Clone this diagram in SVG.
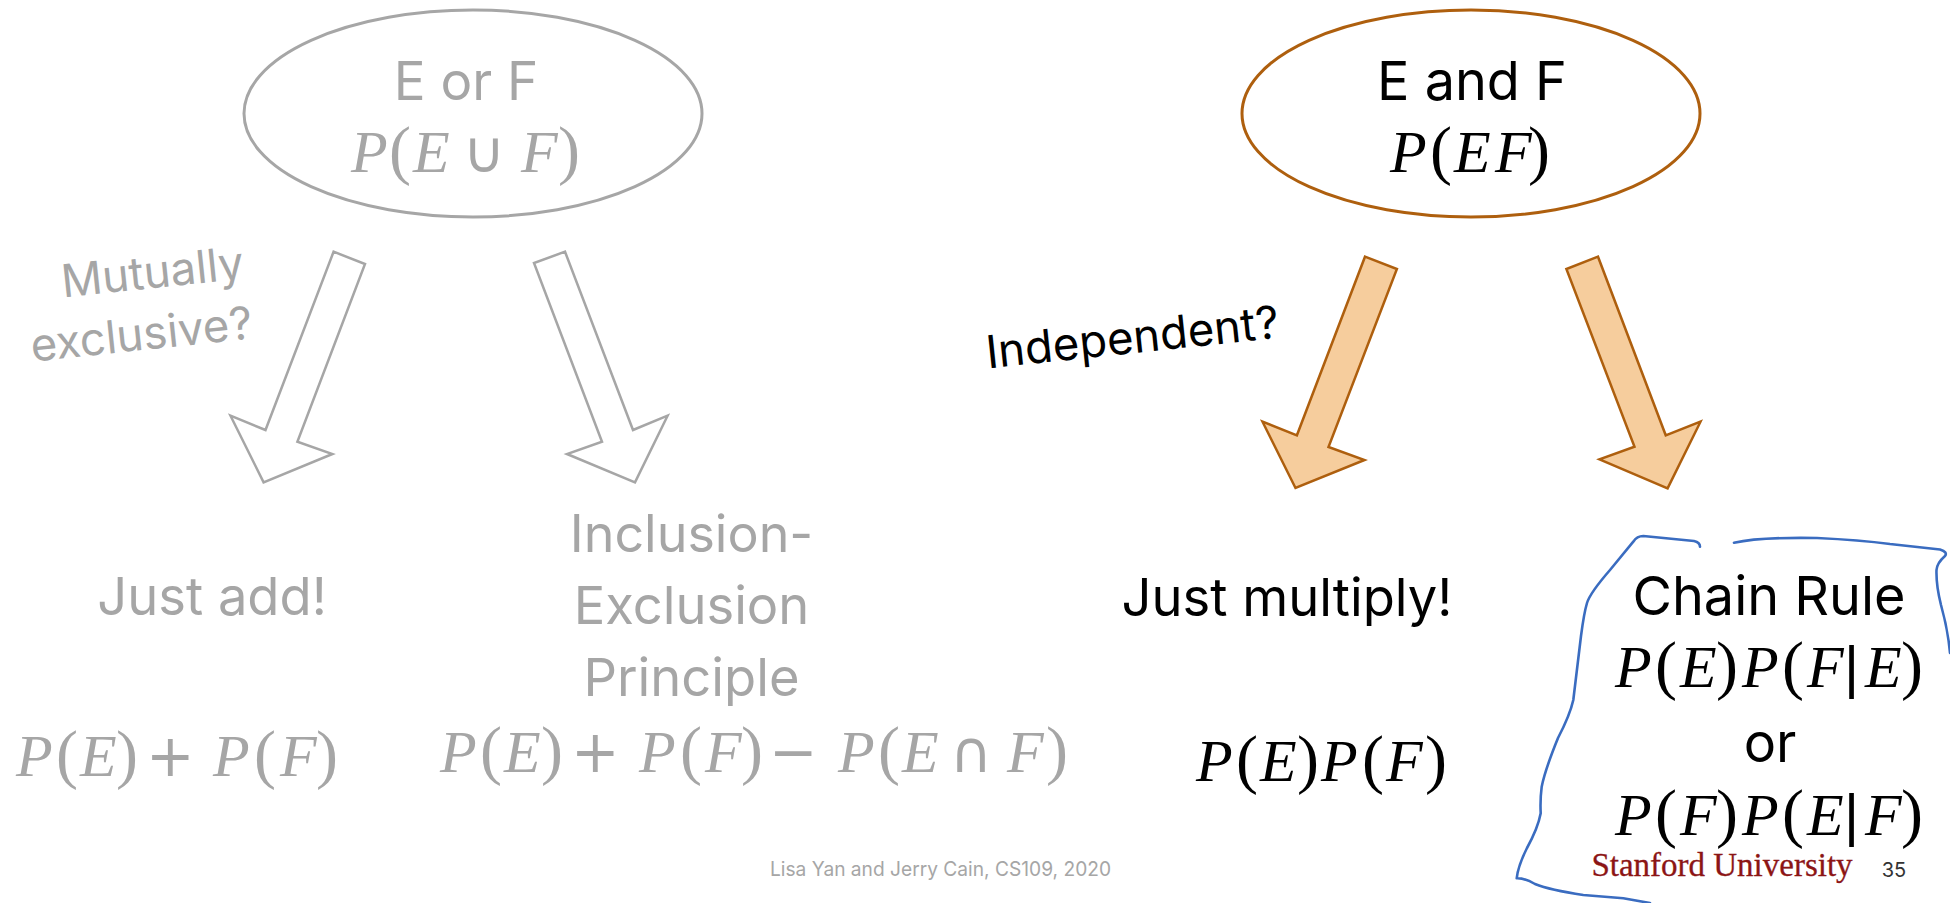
<svg xmlns="http://www.w3.org/2000/svg" width="1950" height="903" viewBox="0 0 1950 903">
<style>
text{font-family:"Inter","Liberation Sans",sans-serif;text-anchor:middle}
.g{fill:#a6a6a6}.k{fill:#000}
.t{font-size:52.5px}.c{font-size:54px}.s{font-size:45.5px}
.m{font-family:"Liberation Serif",serif;font-size:60px;font-style:italic;text-anchor:start}
.m .p{font-style:normal;font-size:66px}
.m .o{font-style:normal;font-family:"DejaVu Sans",sans-serif;font-size:58px}
.m .b{font-style:normal;font-family:"Liberation Sans",sans-serif;font-size:58px}
.el{fill:#fff;stroke-width:3}
.ag{fill:#fff;stroke:#a6a6a6;stroke-width:2.5}
.ao{fill:#f6cd9d;stroke:#ae5f0e;stroke-width:2.5}
</style>
<rect width="1950" height="903" fill="#fff"/>
<g id="connectors">
<polygon class="ag" points="333.6,251.7 365,264 297.4,441.7 332.4,454 263.6,482.3 230.5,415.7 265.5,430"/>
<polygon class="ag" points="565,251.7 534,263 602,441.7 567,454 635,482.3 667.6,415.7 633,430"/>
<polygon class="ao" points="1365,256.7 1396.9,269 1328.5,447 1364.5,460 1295.5,488 1262.5,421.7 1296.9,435.3"/>
<polygon class="ao" points="1598,256.7 1566.4,269 1634.5,446.7 1599.5,459.3 1667.6,488.3 1700.5,421.7 1665.75,435.3"/>
</g>
<g id="node-or">
<ellipse class="el" cx="473" cy="113.5" rx="229" ry="103.5" stroke="#a6a6a6"/>
<text class="c g" x="466" y="100" style="font-size:53px">E or F</text>
<text class="m g" y="172"><tspan x="351">P</tspan><tspan class="p" x="389">(</tspan><tspan x="413">E</tspan><tspan class="o" x="463">∪</tspan><tspan x="521">F</tspan><tspan class="p" x="558">)</tspan></text>
</g>
<g id="node-and">
<ellipse class="el" cx="1471" cy="113.5" rx="229" ry="103.5" stroke="#ae5f0e"/>
<text class="c k" x="1472" y="100">E and F</text>
<text class="m k" y="172"><tspan x="1390">P</tspan><tspan class="p" x="1430">(</tspan><tspan x="1454">E</tspan><tspan x="1495">F</tspan><tspan class="p" x="1528">)</tspan></text>
</g>
<g id="label-mutually">
<text class="s g" transform="translate(154,288) rotate(-6)">Mutually</text>
<text class="s g" transform="translate(143,350) rotate(-6)">exclusive?</text>
</g>
<g id="label-independent">
<text class="s k" transform="translate(1134,353) rotate(-6)">Independent?</text>
</g>
<g id="node-add">
<text class="t g" x="212" y="615">Just add!</text>
<text class="m g" y="776"><tspan x="16">P</tspan><tspan class="p" x="56">(</tspan><tspan x="80">E</tspan><tspan class="p" x="116">)</tspan><tspan class="o" x="146">+</tspan><tspan x="213">P</tspan><tspan class="p" x="254">(</tspan><tspan x="280">F</tspan><tspan class="p" x="316">)</tspan></text>
</g>
<g id="node-ie">
<text class="t g" x="691.5" y="552" style="font-size:52px">Inclusion-</text>
<text class="t g" x="691.5" y="624">Exclusion</text>
<text class="t g" x="691.5" y="696">Principle</text>
<text class="m g" y="772"><tspan x="440">P</tspan><tspan class="p" x="480">(</tspan><tspan x="504">E</tspan><tspan class="p" x="541">)</tspan><tspan class="o" x="571">+</tspan><tspan x="639">P</tspan><tspan class="p" x="680">(</tspan><tspan x="705">F</tspan><tspan class="p" x="741">)</tspan><tspan class="o" x="769">−</tspan><tspan x="838">P</tspan><tspan class="p" x="878">(</tspan><tspan x="902">E</tspan><tspan class="o" x="950">∩</tspan><tspan x="1007">F</tspan><tspan class="p" x="1046">)</tspan></text>
</g>
<g id="node-multiply">
<text class="t k" x="1287" y="616">Just multiply!</text>
<text class="m k" y="781"><tspan x="1196">P</tspan><tspan class="p" x="1236">(</tspan><tspan x="1260">E</tspan><tspan class="p" x="1297">)</tspan><tspan x="1321">P</tspan><tspan class="p" x="1362">(</tspan><tspan x="1386">F</tspan><tspan class="p" x="1425">)</tspan></text>
</g>
<g id="node-chain">
<text class="c k" x="1769" y="615">Chain Rule</text>
<text class="m k" y="687"><tspan x="1615">P</tspan><tspan class="p" x="1655">(</tspan><tspan x="1680">E</tspan><tspan class="p" x="1716">)</tspan><tspan x="1742">P</tspan><tspan class="p" x="1782">(</tspan><tspan x="1807">F</tspan><tspan class="b" x="1844">|</tspan><tspan x="1865">E</tspan><tspan class="p" x="1901">)</tspan></text>
<text class="c k" x="1770" y="762">or</text>
<text class="m k" y="835"><tspan x="1615">P</tspan><tspan class="p" x="1655">(</tspan><tspan x="1680">F</tspan><tspan class="p" x="1716">)</tspan><tspan x="1742">P</tspan><tspan class="p" x="1782">(</tspan><tspan x="1807">E</tspan><tspan class="b" x="1844">|</tspan><tspan x="1865">F</tspan><tspan class="p" x="1901">)</tspan></text>
</g>
<g id="scribble" fill="none" stroke="#3a6cc0" stroke-width="2.6" stroke-linecap="round" stroke-linejoin="round">
<path d="M1700,546.7 Q1700,542.3 1694,541 L1643.3,536 Q1637,536 1633.3,541.7 L1610,570 Q1590,593 1587,603 Q1584,613 1581,636 L1573.3,700 Q1570,715 1558,738 Q1545,770 1541.7,786.7 Q1540,800 1540.7,813.3 Q1538,828 1527,848 Q1518,866 1516.7,878.3 Q1525,878 1535,884 Q1550,890 1583.3,895 L1623.3,898.3 L1650,903"/>
<path d="M1734,542.7 Q1760,537 1817,538 Q1860,540 1890,544 L1940,549.5 Q1948,552 1945,556 Q1937,563 1936.5,570 Q1936,585 1941,605 Q1948,630 1950,653"/>
</g>
<g id="footer">
<text x="770" y="876" class="g" style="font-size:20px;text-anchor:start" textLength="341" lengthAdjust="spacingAndGlyphs">Lisa Yan and Jerry Cain, CS109, 2020</text>
<text x="1722" y="876" fill="#8c1515" stroke="#8c1515" stroke-width="0.3" style="font-family:'Liberation Serif',serif;font-size:33px">Stanford University</text>
<text x="1894" y="877" fill="#333" style="font-size:20px">35</text>
</g>
</svg>
